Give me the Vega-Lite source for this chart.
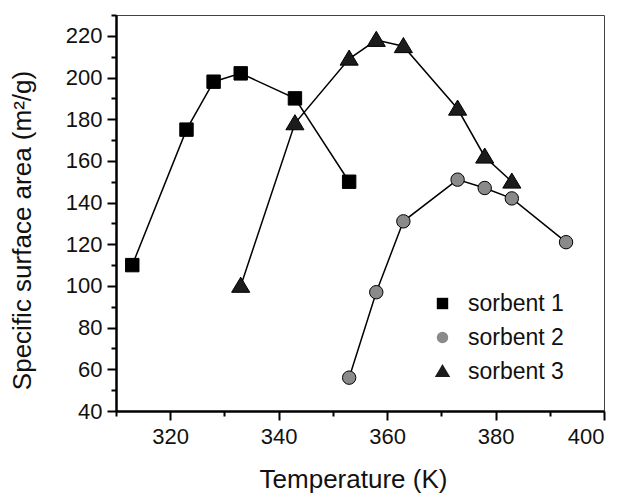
{
  "$schema": "https://vega.github.io/schema/vega-lite/v6.json",
  "width": 488,
  "height": 396,
  "autosize": {"type": "none"},
  "padding": {"left": 116, "top": 15, "right": 27, "bottom": 84},
  "background": "white",
  "config": {
    "font": "Liberation Sans",
    "view": {"stroke": "#444", "strokeWidth": 1},
    "axis": {
      "grid": false,
      "domainColor": "black",
      "domainWidth": 2.5,
      "tickColor": "black",
      "tickWidth": 2,
      "labelFont": "Liberation Sans",
      "labelFontSize": 22,
      "labelColor": "#111",
      "titleFont": "Liberation Sans",
      "titleFontWeight": "normal",
      "titleColor": "#111"
    }
  },
  "data": {
    "values": [
      {"series": "sorbent 1", "T": 313, "S": 110},
      {"series": "sorbent 1", "T": 323, "S": 175},
      {"series": "sorbent 1", "T": 328, "S": 198},
      {"series": "sorbent 1", "T": 333, "S": 202},
      {"series": "sorbent 1", "T": 343, "S": 190},
      {"series": "sorbent 1", "T": 353, "S": 150},
      {"series": "sorbent 2", "T": 353, "S": 56},
      {"series": "sorbent 2", "T": 358, "S": 97},
      {"series": "sorbent 2", "T": 363, "S": 131},
      {"series": "sorbent 2", "T": 373, "S": 151},
      {"series": "sorbent 2", "T": 378, "S": 147},
      {"series": "sorbent 2", "T": 383, "S": 142},
      {"series": "sorbent 2", "T": 393, "S": 121},
      {"series": "sorbent 3", "T": 333, "S": 100},
      {"series": "sorbent 3", "T": 343, "S": 178},
      {"series": "sorbent 3", "T": 353, "S": 209},
      {"series": "sorbent 3", "T": 358, "S": 218},
      {"series": "sorbent 3", "T": 363, "S": 215},
      {"series": "sorbent 3", "T": 373, "S": 185},
      {"series": "sorbent 3", "T": 378, "S": 162},
      {"series": "sorbent 3", "T": 383, "S": 150}
    ]
  },
  "encoding": {
    "x": {
      "field": "T",
      "type": "quantitative",
      "scale": {"domain": [310, 400], "nice": false, "zero": false},
      "axis": {
        "title": "Temperature (K)",
        "titleFontSize": 26,
        "values": [310, 320, 330, 340, 350, 360, 370, 380, 390, 400],
        "labelExpr": "datum.value % 20 === 0 ? datum.label : ''",
        "tickSize": {"condition": {"test": "datum.value % 20 === 0", "value": 9}, "value": 5},
        "labelPadding": 6,
        "titlePadding": 19,
        "titleX": 237
      }
    },
    "y": {
      "field": "S",
      "type": "quantitative",
      "scale": {"domain": [40, 230], "nice": false, "zero": false},
      "axis": {
        "title": "Specific surface area (m²/g)",
        "titleFontSize": 26,
        "values": [40, 50, 60, 70, 80, 90, 100, 110, 120, 130, 140, 150, 160, 170, 180, 190, 200, 210, 220, 230],
        "labelExpr": "datum.value % 20 === 0 ? datum.label : ''",
        "tickSize": {"condition": {"test": "datum.value % 20 === 0", "value": 9}, "value": 5},
        "labelPadding": 5,
        "titlePadding": 30,
        "titleY": 215
      }
    }
  },
  "layer": [
    {
      "mark": {"type": "line", "color": "black", "strokeWidth": 1.5},
      "encoding": {"detail": {"field": "series"}}
    },
    {
      "mark": {"type": "point", "filled": true, "size": 180, "stroke": "black", "strokeWidth": 1, "opacity": 1},
      "encoding": {
        "shape": {
          "field": "series",
          "type": "nominal",
          "scale": {"domain": ["sorbent 1", "sorbent 2", "sorbent 3"], "range": ["square", "circle", "M-1.35,0.95L1.35,0.95L0,-1.3Z"]},
          "legend": {
            "title": null,
            "orient": "none",
            "legendX": 315,
            "legendY": 277,
            "labelFont": "Liberation Sans",
            "labelFontSize": 23,
            "labelColor": "#111",
            "symbolSize": 130,
            "symbolStrokeColor": "black",
            "symbolStrokeWidth": 1,
            "rowPadding": 10,
            "labelOffset": 14,
            "padding": 0
          }
        },
        "fill": {
          "field": "series",
          "type": "nominal",
          "scale": {"domain": ["sorbent 1", "sorbent 2", "sorbent 3"], "range": ["#000000", "#8a8a8a", "#1c1c1c"]},
          "legend": {
            "title": null,
            "orient": "none",
            "legendX": 315,
            "legendY": 277,
            "labelFont": "Liberation Sans",
            "labelFontSize": 23,
            "labelColor": "#111",
            "symbolSize": 130,
            "symbolStrokeColor": "black",
            "symbolStrokeWidth": 1,
            "rowPadding": 10,
            "labelOffset": 14,
            "padding": 0
          }
        }
      }
    }
  ]
}
